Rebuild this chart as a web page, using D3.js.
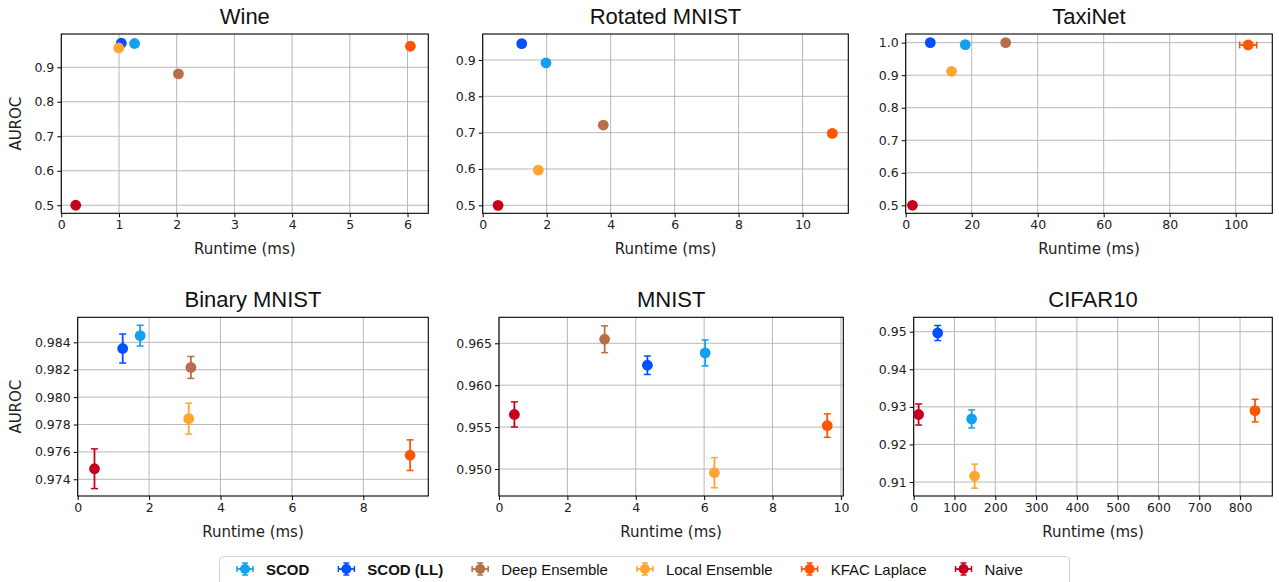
<!DOCTYPE html>
<html>
<head>
<meta charset="utf-8">
<script src="https://cdn.jsdelivr.net/npm/d3@7"></script>
<style>
  body { margin: 0; background: #fff; }
  svg { display: block; }
</style>
</head>
<body>
<div id="chart"></div>
<script>
// Methods, in legend order
const methods = ["SCOD", "SCOD (LL)", "Deep Ensemble", "Local Ensemble", "KFAC Laplace", "Naive"];
const boldMethods = ["SCOD", "SCOD (LL)"];
const methodColors = ["#12a0f0", "#0050ff", "#b86e48", "#ffa530", "#ff5500", "#c4001c"];

// Wine
const wineRuntime = [1.27, 1.04, 2.03, 0.995, 6.05, 0.25];
const wineAuroc = [0.969, 0.970, 0.881, 0.956, 0.961, 0.5];
const wineXTicks = [0, 1, 2, 3, 4, 5, 6];
const wineYTicks = [0.5, 0.6, 0.7, 0.8, 0.9];

// Rotated MNIST
const rotRuntime = [1.98, 1.22, 3.77, 1.74, 10.93, 0.48];
const rotAuroc = [0.892, 0.945, 0.721, 0.597, 0.698, 0.5];
const rotXTicks = [0, 2, 4, 6, 8, 10];
const rotYTicks = [0.5, 0.6, 0.7, 0.8, 0.9];

// TaxiNet
const taxiRuntime = [18.06, 7.45, 30.3, 13.9, 103.8, 2.04];
const taxiRuntimeErr = [0, 0, 0, 0, 2.6, 0];
const taxiAuroc = [0.994, 1.0, 1.0, 0.912, 0.993, 0.5];
const taxiXTicks = [0, 20, 40, 60, 80, 100];
const taxiYTicks = [0.5, 0.6, 0.7, 0.8, 0.9, 1.0];

// Binary MNIST
const binRuntime = [1.75, 1.26, 3.17, 3.11, 9.31, 0.47];
const binAuroc = [0.98449, 0.98355, 0.98217, 0.97843, 0.97576, 0.97477];
const binAurocErr = [0.00076, 0.00106, 0.0008, 0.00113, 0.00112, 0.00145];
const binXTicks = [0, 2, 4, 6, 8];
const binYTicks = [0.974, 0.976, 0.978, 0.980, 0.982, 0.984];

// MNIST
const mnistRuntime = [6.03, 4.34, 3.09, 6.3, 9.6, 0.45];
const mnistAuroc = [0.96385, 0.96238, 0.96548, 0.94956, 0.95518, 0.95651];
const mnistAurocErr = [0.00155, 0.0011, 0.0016, 0.0018, 0.0014, 0.0015];
const mnistXTicks = [0, 2, 4, 6, 8, 10];
const mnistYTicks = [0.950, 0.955, 0.960, 0.965];

// CIFAR10 (no Deep Ensemble result)
const cifarRuntime = [142, 58.8, null, 149.4, 836.6, 12];
const cifarAuroc = [0.92678, 0.94965, null, 0.91156, 0.929, 0.92796];
const cifarAurocErr = [0.0024, 0.002, null, 0.0032, 0.003, 0.0028];
const cifarXTicks = [0, 100, 200, 300, 400, 500, 600, 700, 800];
const cifarYTicks = [0.91, 0.92, 0.93, 0.94, 0.95];

const width = 1279;
const height = 582;
const tickFont = "'DejaVu Sans', sans-serif";
const titleFont = "'Liberation Sans', Arial, sans-serif";

const panels = [
  { title: "Wine", runtime: wineRuntime, auroc: wineAuroc, xDomain: [0, 6.36], yDomain: [0.4767, 0.9965],
    xTicks: wineXTicks, yTicks: wineYTicks, yFormat: ".1f", box: [61.3, 428.3, 34, 213.3], ylabel: true },
  { title: "Rotated MNIST", runtime: rotRuntime, auroc: rotAuroc, xDomain: [0, 11.43], yDomain: [0.478, 0.9716],
    xTicks: rotXTicks, yTicks: rotYTicks, yFormat: ".1f", box: [482.7, 848.3, 34, 213.3] },
  { title: "TaxiNet", runtime: taxiRuntime, auroc: taxiAuroc, xErr: taxiRuntimeErr, xDomain: [0, 111.1], yDomain: [0.4754, 1.0266],
    xTicks: taxiXTicks, yTicks: taxiYTicks, yFormat: ".1f", box: [905.7, 1272.3, 34, 213.3] },
  { title: "Binary MNIST", runtime: binRuntime, auroc: binAuroc, yErr: binAurocErr, xDomain: [0, 9.82], yDomain: [0.97278, 0.98583],
    xTicks: binXTicks, yTicks: binYTicks, yFormat: ".3f", box: [77.7, 428.3, 317.3, 496], ylabel: true },
  { title: "MNIST", runtime: mnistRuntime, auroc: mnistAuroc, yErr: mnistAurocErr, xDomain: [0, 10.07], yDomain: [0.94678, 0.9681],
    xTicks: mnistXTicks, yTicks: mnistYTicks, yFormat: ".3f", box: [499, 843.3, 317.3, 496] },
  { title: "CIFAR10", runtime: cifarRuntime, auroc: cifarAuroc, yErr: cifarAurocErr, xDomain: [0, 879], yDomain: [0.90628, 0.95383],
    xTicks: cifarXTicks, yTicks: cifarYTicks, yFormat: ".2f", box: [913.7, 1272.3, 317.3, 496] }
];

const svg = d3.select("#chart")
  .append("svg")
  .attr("width", width)
  .attr("height", height);

function drawPanel(p) {
  const [left, right, top, bottom] = p.box;
  const g = svg.append("g");

  const x = d3.scaleLinear().domain(p.xDomain).range([left, right]);
  const y = d3.scaleLinear().domain(p.yDomain).range([bottom, top]);

  // Grid lines
  g.append("g")
    .selectAll("line")
    .data(p.xTicks)
    .join("line")
    .attr("x1", (d) => x(d))
    .attr("x2", (d) => x(d))
    .attr("y1", top)
    .attr("y2", bottom)
    .attr("stroke", "#b0b0b0")
    .attr("stroke-width", 0.9);
  g.append("g")
    .selectAll("line")
    .data(p.yTicks)
    .join("line")
    .attr("x1", left)
    .attr("x2", right)
    .attr("y1", (d) => y(d))
    .attr("y2", (d) => y(d))
    .attr("stroke", "#b0b0b0")
    .attr("stroke-width", 0.9);

  // Axes
  const xAxis = g.append("g")
    .attr("transform", `translate(0, ${bottom})`)
    .call(d3.axisBottom(x).tickValues(p.xTicks).tickFormat(d3.format("d")).tickSize(4).tickPadding(3));
  const yAxis = g.append("g")
    .attr("transform", `translate(${left}, 0)`)
    .call(d3.axisLeft(y).tickValues(p.yTicks).tickFormat(d3.format(p.yFormat)).tickSize(4).tickPadding(3));
  [xAxis, yAxis].forEach((ax) => {
    ax.select(".domain").remove();
    ax.attr("font-family", tickFont).attr("font-size", 12.5);
    ax.selectAll("line").attr("stroke", "#000");
    ax.selectAll("text").attr("fill", "#222");
  });

  // Frame
  g.append("rect")
    .attr("x", left)
    .attr("y", top)
    .attr("width", right - left)
    .attr("height", bottom - top)
    .attr("fill", "none")
    .attr("stroke", "#000")
    .attr("stroke-width", 1.1);

  // Title and labels
  g.append("text")
    .attr("x", (left + right) / 2)
    .attr("y", top - 10)
    .attr("text-anchor", "middle")
    .attr("font-family", titleFont)
    .attr("font-size", 22)
    .attr("fill", "#111")
    .text(p.title);
  g.append("text")
    .attr("x", (left + right) / 2)
    .attr("y", bottom + 41)
    .attr("text-anchor", "middle")
    .attr("font-family", tickFont)
    .attr("font-size", 15)
    .attr("fill", "#222")
    .text("Runtime (ms)");
  if (p.ylabel) {
    g.append("text")
      .attr("transform", `translate(16, ${(top + bottom) / 2}) rotate(-90)`)
      .attr("text-anchor", "middle")
      .attr("dy", "0.35em")
      .attr("font-family", tickFont)
      .attr("font-size", 15)
      .attr("fill", "#222")
      .text("AUROC");
  }

  // Points with error bars
  const pts = methods
    .map((m, i) => ({
      i,
      r: p.runtime[i],
      a: p.auroc[i],
      ye: p.yErr ? p.yErr[i] : 0,
      xe: p.xErr ? p.xErr[i] : 0
    }))
    .filter((d) => d.r != null);

  pts.forEach((d) => {
    const c = methodColors[d.i];
    const cx = x(d.r);
    const cy = y(d.a);
    const pg = g.append("g");
    if (d.ye) {
      pg.append("line").attr("x1", cx).attr("x2", cx).attr("y1", y(d.a - d.ye)).attr("y2", y(d.a + d.ye))
        .attr("stroke", c).attr("stroke-width", 1.8);
      [d.a - d.ye, d.a + d.ye].forEach((v) => {
        pg.append("line").attr("x1", cx - 3.5).attr("x2", cx + 3.5).attr("y1", y(v)).attr("y2", y(v))
          .attr("stroke", c).attr("stroke-width", 1.5);
      });
    }
    if (d.xe) {
      pg.append("line").attr("x1", x(d.r - d.xe)).attr("x2", x(d.r + d.xe)).attr("y1", cy).attr("y2", cy)
        .attr("stroke", c).attr("stroke-width", 1.8);
      [d.r - d.xe, d.r + d.xe].forEach((v) => {
        pg.append("line").attr("x1", x(v)).attr("x2", x(v)).attr("y1", cy - 3.5).attr("y2", cy + 3.5)
          .attr("stroke", c).attr("stroke-width", 1.5);
      });
    }
    pg.append("circle").attr("cx", cx).attr("cy", cy).attr("r", 5.4).attr("fill", c);
  });
}

panels.forEach(drawPanel);

// Legend
const legend = svg.append("g");
legend.append("rect")
  .attr("x", 219.5)
  .attr("y", 556.5)
  .attr("width", 850)
  .attr("height", 40)
  .attr("rx", 4)
  .attr("fill", "#fff")
  .attr("stroke", "#d0d0d0")
  .attr("stroke-width", 1);

let cursor = 245;
methods.forEach((m, i) => {
  const c = methodColors[i];
  const cy = 569;
  const item = legend.append("g");
  item.append("line").attr("x1", cursor - 8).attr("x2", cursor + 8).attr("y1", cy).attr("y2", cy)
    .attr("stroke", c).attr("stroke-width", 1.8);
  item.append("line").attr("x1", cursor).attr("x2", cursor).attr("y1", cy - 6).attr("y2", cy + 6)
    .attr("stroke", c).attr("stroke-width", 1.8);
  item.append("line").attr("x1", cursor - 8).attr("x2", cursor - 8).attr("y1", cy - 3).attr("y2", cy + 3)
    .attr("stroke", c).attr("stroke-width", 1.5);
  item.append("line").attr("x1", cursor + 8).attr("x2", cursor + 8).attr("y1", cy - 3).attr("y2", cy + 3)
    .attr("stroke", c).attr("stroke-width", 1.5);
  item.append("line").attr("x1", cursor - 3).attr("x2", cursor + 3).attr("y1", cy - 6).attr("y2", cy - 6)
    .attr("stroke", c).attr("stroke-width", 1.5);
  item.append("line").attr("x1", cursor - 3).attr("x2", cursor + 3).attr("y1", cy + 6).attr("y2", cy + 6)
    .attr("stroke", c).attr("stroke-width", 1.5);
  item.append("circle").attr("cx", cursor).attr("cy", cy).attr("r", 5).attr("fill", c);

  const label = item.append("text")
    .attr("x", cursor + 21)
    .attr("y", cy + 5.5)
    .attr("font-family", titleFont)
    .attr("font-size", 15)
    .attr("font-weight", boldMethods.includes(m) ? "bold" : "normal")
    .attr("fill", "#111")
    .text(m);
  cursor = cursor + 21 + label.node().getComputedTextLength() + 37;
});
</script>
</body>
</html>
